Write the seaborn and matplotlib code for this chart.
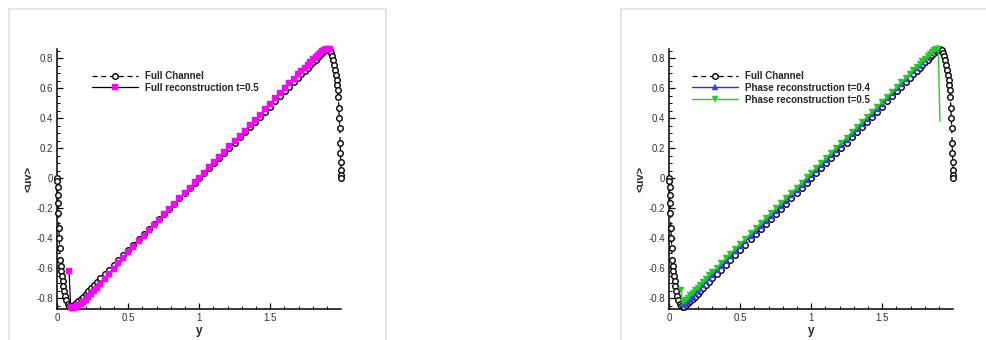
import matplotlib
matplotlib.use("Agg")
import matplotlib.pyplot as plt
from matplotlib.patches import Rectangle
from matplotlib.lines import Line2D
import seaborn as sns

# ---------------- data ----------------
y_full = [0.0, 0.001, 0.002, 0.004, 0.006, 0.008, 0.011, 0.014, 0.017, 0.021,
          0.025, 0.029, 0.033, 0.038, 0.043, 0.049, 0.056, 0.064, 0.073, 0.083,
          0.094, 0.106, 0.119, 0.133, 0.148, 0.164, 0.181, 0.199, 0.218, 0.238,
          0.259, 0.281, 0.304, 0.334, 0.365, 0.397, 0.430, 0.464, 0.500, 0.536,
          0.572, 0.608, 0.644, 0.680, 0.716, 0.752, 0.788, 0.824, 0.860, 0.896,
          0.932, 0.968, 1.000, 1.032, 1.068, 1.104, 1.140, 1.176, 1.212, 1.248,
          1.284, 1.320, 1.356, 1.392, 1.428, 1.464, 1.500, 1.536, 1.570, 1.603,
          1.635, 1.666, 1.696, 1.719, 1.741, 1.762, 1.782, 1.801, 1.819, 1.836,
          1.852, 1.867, 1.881, 1.894, 1.906, 1.917, 1.927, 1.936, 1.944, 1.951,
          1.957, 1.962, 1.967, 1.971, 1.975, 1.979, 1.983, 1.986, 1.989, 1.992,
          1.994, 1.996, 1.998, 1.999, 2.000]
uv_full = [0.0, -0.022, -0.056, -0.111, -0.167, -0.233, -0.333, -0.400, -0.467, -0.545,
           -0.589, -0.622, -0.656, -0.689, -0.722, -0.756, -0.789, -0.815, -0.838, -0.855,
           -0.862, -0.857, -0.847, -0.835, -0.821, -0.806, -0.790, -0.772, -0.754, -0.735,
           -0.714, -0.692, -0.669, -0.640, -0.610, -0.579, -0.546, -0.512, -0.477, -0.443,
           -0.408, -0.374, -0.340, -0.306, -0.272, -0.238, -0.203, -0.169, -0.135, -0.101,
           -0.067, -0.034, 0.0, 0.034, 0.067, 0.101, 0.135, 0.169, 0.203, 0.238,
           0.272, 0.306, 0.340, 0.374, 0.408, 0.443, 0.477, 0.512, 0.546, 0.579,
           0.610, 0.640, 0.669, 0.692, 0.714, 0.735, 0.754, 0.772, 0.790, 0.806,
           0.821, 0.835, 0.847, 0.857, 0.862, 0.855, 0.838, 0.815, 0.789, 0.756,
           0.722, 0.689, 0.656, 0.622, 0.589, 0.545, 0.467, 0.400, 0.333, 0.233,
           0.167, 0.111, 0.056, 0.022, 0.0]

y_rec = [0.083, 0.094, 0.106, 0.119, 0.133, 0.148, 0.164, 0.181, 0.199, 0.218,
         0.238, 0.259, 0.281, 0.304, 0.334, 0.365, 0.397, 0.430, 0.464, 0.500,
         0.536, 0.572, 0.608, 0.644, 0.680, 0.716, 0.752, 0.788, 0.824, 0.860,
         0.896, 0.932, 0.968, 1.000, 1.032, 1.068, 1.104, 1.140, 1.176, 1.212,
         1.248, 1.284, 1.320, 1.356, 1.392, 1.428, 1.464, 1.500, 1.536, 1.570,
         1.603, 1.635, 1.666, 1.696, 1.719, 1.741, 1.762, 1.782, 1.801, 1.819,
         1.836, 1.852, 1.867, 1.881, 1.894, 1.906, 1.917]
uv_rec = [-0.620, -0.860, -0.866, -0.864, -0.858, -0.849, -0.838, -0.825, -0.810, -0.793,
          -0.774, -0.753, -0.730, -0.705, -0.673, -0.639, -0.604, -0.568, -0.531, -0.494,
          -0.457, -0.421, -0.385, -0.349, -0.313, -0.277, -0.241, -0.205, -0.169, -0.133,
          -0.098, -0.063, -0.028, 0.004, 0.037, 0.072, 0.107, 0.142, 0.177, 0.212,
          0.247, 0.282, 0.317, 0.352, 0.387, 0.422, 0.460, 0.497, 0.534, 0.569,
          0.602, 0.634, 0.664, 0.693, 0.715, 0.736, 0.756, 0.775, 0.793, 0.809,
          0.824, 0.837, 0.848, 0.856, 0.861, 0.863, 0.860]

y_p04 = [0.094, 0.106, 0.119, 0.133, 0.148, 0.164, 0.181, 0.199, 0.218, 0.238,
         0.259, 0.281, 0.304, 0.334, 0.365, 0.397, 0.430, 0.464, 0.500, 0.536,
         0.572, 0.608, 0.644, 0.680, 0.716, 0.752, 0.788, 0.824, 0.860, 0.896,
         0.932, 0.968, 1.000, 1.032, 1.068, 1.104, 1.140, 1.176, 1.212, 1.248,
         1.284, 1.320, 1.356, 1.392, 1.428, 1.464, 1.500, 1.536, 1.570, 1.603,
         1.635, 1.666, 1.696, 1.719, 1.741, 1.762, 1.782, 1.801, 1.819, 1.836,
         1.852, 1.867, 1.881, 1.894]
uv_p04 = [-0.838, -0.835, -0.826, -0.814, -0.800, -0.784, -0.767, -0.749, -0.730, -0.710,
          -0.689, -0.667, -0.644, -0.615, -0.585, -0.554, -0.522, -0.489, -0.455, -0.421,
          -0.387, -0.353, -0.319, -0.285, -0.251, -0.217, -0.183, -0.149, -0.115, -0.081,
          -0.047, -0.013, 0.020, 0.053, 0.087, 0.121, 0.155, 0.189, 0.223, 0.258,
          0.292, 0.326, 0.360, 0.394, 0.428, 0.463, 0.497, 0.532, 0.566, 0.599,
          0.631, 0.662, 0.692, 0.715, 0.737, 0.758, 0.778, 0.797, 0.815, 0.832,
          0.847, 0.858, 0.864, 0.866]

y_p05 = [0.083, 0.094, 0.106, 0.119, 0.133, 0.148, 0.164, 0.181, 0.199, 0.218,
         0.238, 0.259, 0.281, 0.304, 0.334, 0.365, 0.397, 0.430, 0.464, 0.500,
         0.536, 0.572, 0.608, 0.644, 0.680, 0.716, 0.752, 0.788, 0.824, 0.860,
         0.896, 0.932, 0.968, 1.000, 1.032, 1.068, 1.104, 1.140, 1.176, 1.212,
         1.248, 1.284, 1.320, 1.356, 1.392, 1.428, 1.464, 1.500, 1.536, 1.570,
         1.603, 1.635, 1.666, 1.696, 1.719, 1.741, 1.762, 1.782, 1.801, 1.819,
         1.836, 1.852, 1.867, 1.881, 1.894, 1.906]
uv_p05 = [-0.745, -0.828, -0.820, -0.810, -0.797, -0.782, -0.766, -0.749, -0.731, -0.712,
          -0.692, -0.671, -0.649, -0.626, -0.597, -0.567, -0.536, -0.504, -0.471, -0.437,
          -0.403, -0.369, -0.335, -0.301, -0.267, -0.233, -0.199, -0.165, -0.131, -0.097,
          -0.063, -0.029, 0.005, 0.036, 0.067, 0.101, 0.135, 0.169, 0.203, 0.237,
          0.271, 0.305, 0.339, 0.373, 0.407, 0.441, 0.475, 0.509, 0.543, 0.576,
          0.608, 0.639, 0.668, 0.697, 0.719, 0.740, 0.760, 0.779, 0.797, 0.814,
          0.830, 0.844, 0.855, 0.862, 0.865, 0.380]

x_ticks = [0, 0.5, 1, 1.5]
x_ticklabels = ["0", "0.5", "1", "1.5"]
y_ticks = [-0.8, -0.6, -0.4, -0.2, 0, 0.2, 0.4, 0.6, 0.8]
y_ticklabels = ["-0.8", "-0.6", "-0.4", "-0.2", "0", "0.2", "0.4", "0.6", "0.8"]

labels_left = ["Full Channel", "Full reconstruction t=0.5"]
labels_right = ["Full Channel", "Phase reconstruction t=0.4", "Phase reconstruction t=0.5"]

# ---------------- style ----------------
sns.set_style("ticks")
plt.rcParams["font.family"] = ["Liberation Sans", "DejaVu Sans"]

W, H = 987, 340
fig = plt.figure(figsize=(W / 100, H / 100), dpi=100)
fig.patch.set_facecolor("white")

# light grey panel frames
fig.patches.append(Rectangle((9 / W, -0.1), 377 / W, 1.1 - 9.3 / H, transform=fig.transFigure,
                             fill=False, edgecolor="#e2e2e2", linewidth=1.2))
fig.patches.append(Rectangle((621 / W, -0.1), 0.5, 1.1 - 9.3 / H, transform=fig.transFigure,
                             fill=False, edgecolor="#e2e2e2", linewidth=1.2))

ax1 = fig.add_axes([57.3 / W, 31 / H, 284 / W, 260 / H])
ax2 = fig.add_axes([669.3 / W, 31 / H, 284 / W, 260 / H])

ms = 4.0
full_kw = dict(color="black", linestyle=(0, (4, 3)), linewidth=0.9, marker="o",
               markersize=ms, markerfacecolor="white", markeredgecolor="black",
               markeredgewidth=1.0)
rec_kw = dict(color="black", linewidth=0.9, marker="s", markersize=ms - 0.2,
              markerfacecolor="#ff00ff", markeredgecolor="#ff00ff", markeredgewidth=0.3)
p04_kw = dict(color="#2a2af0", linewidth=1.0, marker="^", markersize=ms + 0.4,
              markerfacecolor="#3b3bf5", markeredgecolor="#3b3bf5", markeredgewidth=0.3)
p05_kw = dict(color="#22cc22", linewidth=1.0, marker="v", markersize=ms + 0.8,
              markerfacecolor="#22cc22", markeredgecolor="#22cc22", markeredgewidth=0.3)

for ax in (ax1, ax2):
    sns.lineplot(x=y_full, y=uv_full, ax=ax, sort=False, estimator=None,
                 clip_on=False, zorder=3, **full_kw)

sns.lineplot(x=y_rec, y=uv_rec, ax=ax1, sort=False, estimator=None,
             clip_on=False, zorder=4, **rec_kw)
sns.lineplot(x=y_p04, y=uv_p04, ax=ax2, sort=False, estimator=None,
             clip_on=False, zorder=4, **p04_kw)
sns.lineplot(x=y_p05, y=uv_p05, ax=ax2, sort=False, estimator=None,
             clip_on=False, zorder=5, markevery=list(range(len(y_p05) - 1)), **p05_kw)

for ax in (ax1, ax2):
    ax.set_xlim(0, 2.0)
    ax.set_ylim(-0.873, 0.862)
    ax.set_xticks(x_ticks)
    ax.set_xticklabels(x_ticklabels)
    ax.set_yticks(y_ticks)
    ax.set_yticklabels(y_ticklabels)
    ax.set_xticks([0.1, 0.2, 0.3, 0.4, 0.6, 0.7, 0.8, 0.9, 1.1, 1.2, 1.3, 1.4,
                   1.6, 1.7, 1.8, 1.9], minor=True)
    ax.set_yticks([-0.85, -0.75, -0.7, -0.65, -0.55, -0.5, -0.45, -0.35, -0.3, -0.25,
                   -0.15, -0.1, -0.05, 0.05, 0.1, 0.15, 0.25, 0.3, 0.35, 0.45, 0.5,
                   0.55, 0.65, 0.7, 0.75, 0.85], minor=True)
    ax.tick_params(which="major", direction="in", length=4, width=0.9,
                   labelsize=7, labelcolor="#333333", color="black", pad=3)
    ax.tick_params(which="minor", direction="in", length=2.2, width=0.7, color="black")
    for s in ("top", "right"):
        ax.spines[s].set_visible(False)
    for s in ("left", "bottom"):
        ax.spines[s].set_linewidth(1.1)
        ax.spines[s].set_color("black")
    ax.set_xlabel("y", fontsize=8.5, fontweight="bold", labelpad=1)
    ax.set_ylabel("<uv>", fontsize=8, fontweight="bold", labelpad=2)
    ax.set_facecolor("white")

# legends
h_full = Line2D([], [], **full_kw)
h_rec = Line2D([], [], **rec_kw)
h_p04 = Line2D([], [], **p04_kw)
h_p05 = Line2D([], [], **p05_kw)

leg_kw = dict(loc="upper left", frameon=False, handlelength=4.7, handletextpad=0.8,
              borderpad=0, borderaxespad=0, labelspacing=0.18,
              prop={"size": 7, "weight": "bold"}, numpoints=1)
ax1.legend([h_full, h_rec], labels_left, bbox_to_anchor=(0.122, 0.915), **leg_kw)
ax2.legend([h_full, h_p04, h_p05], labels_right, bbox_to_anchor=(0.08, 0.915), **leg_kw)

fig.savefig("out.png", dpi=100, facecolor="white")
